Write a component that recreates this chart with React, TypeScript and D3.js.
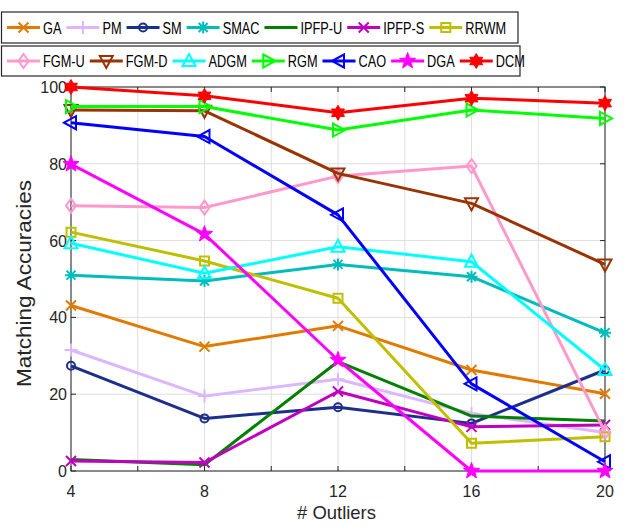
import React, { useEffect, useRef } from "react";
import * as d3 from "d3";

const outliers = [4, 8, 12, 16, 20];
const xTicks = [4, 6, 8, 10, 12, 14, 16, 18, 20];
const xTickLabels = [4, 8, 12, 16, 20];
const yTicks = [0, 20, 40, 60, 80, 100];

const GA = [43.1, 32.4, 37.8, 26.3, 20.1];
const PM = [31.5, 19.5, 23.9, 15.0, 10.0];
const SM = [27.4, 13.7, 16.6, 12.4, 26.3];
const SMAC = [51.0, 49.5, 53.8, 50.6, 36.0];
const IPFP_U = [3.0, 1.6, 28.5, 14.3, 13.0];
const IPFP_S = [2.6, 2.2, 20.7, 11.5, 12.0];
const RRWM = [62.2, 54.7, 45.0, 7.2, 8.9];
const FGM_U = [69.1, 68.6, 76.8, 79.4, 10.2];
const FGM_D = [94.0, 93.8, 77.5, 69.7, 53.8];
const ADGM = [59.3, 51.5, 58.4, 54.5, 26.3];
const RGM = [94.9, 94.9, 88.8, 94.0, 91.8];
const CAO = [90.7, 87.1, 66.7, 22.7, 2.4];
const DGA = [79.9, 61.7, 28.9, 0, 0];
const DCM = [100, 97.7, 93.3, 97.1, 95.8];

const seriesNames = ["GA", "PM", "SM", "SMAC", "IPFP-U", "IPFP-S", "RRWM", "FGM-U", "FGM-D", "ADGM", "RGM", "CAO", "DGA", "DCM"];
const seriesValues = [GA, PM, SM, SMAC, IPFP_U, IPFP_S, RRWM, FGM_U, FGM_D, ADGM, RGM, CAO, DGA, DCM];
const seriesColors = ["#e07b00", "#dcb6ff", "#1c2f8c", "#00bcbc", "#008000", "#bf00bf", "#bfbf00", "#ff99cc", "#993300", "#00ffff", "#00ff00", "#0000ff", "#ff00ff", "#ff0000"];
const seriesMarkers = ["x", "plus", "circle", "asterisk", "none", "x", "square", "diamond", "tridown", "triup", "triright", "trileft", "pentagram", "hexagram"];

const W = 626, H = 527;
const M = { left: 71, right: 605, top: 87, bottom: 471 };

function drawMarker(g: any, type: string, x: number, y: number, color: string) {
  const sw = 2;
  const add = (d: string, fill = "none") =>
    g.append("path").attr("d", d).attr("transform", `translate(${x},${y})`)
      .attr("fill", fill).attr("stroke", color).attr("stroke-width", sw).attr("stroke-linejoin", "miter");
  if (type === "x") {
    const s = 5;
    add(`M${-s},${-s}L${s},${s}M${-s},${s}L${s},${-s}`);
  } else if (type === "plus") {
    const s = 6.5;
    add(`M${-s},0L${s},0M0,${-s}L0,${s}`);
  } else if (type === "asterisk") {
    const s = 6, t = 4.5;
    add(`M${-s},0L${s},0M0,${-s}L0,${s}M${-t},${-t}L${t},${t}M${-t},${t}L${t},${-t}`);
  } else if (type === "circle") {
    g.append("circle").attr("cx", x).attr("cy", y).attr("r", 4).attr("fill", "none").attr("stroke", color).attr("stroke-width", sw);
  } else if (type === "square") {
    const s = 4.5;
    add(`M${-s},${-s}H${s}V${s}H${-s}Z`);
  } else if (type === "diamond") {
    add(`M0,-7L5,0L0,7L-5,0Z`);
  } else if (type === "triup") {
    add(`M0,-7L6.5,5L-6.5,5Z`);
  } else if (type === "tridown") {
    add(`M0,7L6.5,-5L-6.5,-5Z`);
  } else if (type === "triright") {
    add(`M7,0L-5,-6.5L-5,6.5Z`);
  } else if (type === "trileft") {
    add(`M-7,0L5,-6.5L5,6.5Z`);
  } else if (type === "pentagram") {
    const pts: string[] = [];
    for (let i = 0; i < 10; i++) {
      const r = i % 2 === 0 ? 8.5 : 3.5;
      const a = -Math.PI / 2 + (i * Math.PI) / 5;
      pts.push(`${(r * Math.cos(a)).toFixed(2)},${(r * Math.sin(a)).toFixed(2)}`);
    }
    add(`M${pts.join("L")}Z`, color).attr("stroke-width", 1);
  } else if (type === "hexagram") {
    const pts: string[] = [];
    for (let i = 0; i < 12; i++) {
      const r = i % 2 === 0 ? 7.5 : 4.3;
      const a = -Math.PI / 2 + (i * Math.PI) / 6;
      pts.push(`${(r * Math.cos(a)).toFixed(2)},${(r * Math.sin(a)).toFixed(2)}`);
    }
    add(`M${pts.join("L")}Z`, color).attr("stroke-width", 1);
  }
}

export default function App() {
  const ref = useRef<SVGSVGElement | null>(null);
  useEffect(() => {
    const svg = d3.select(ref.current);
    svg.selectAll("*").remove();
    const font = "'Liberation Sans', Arial, Helvetica, sans-serif";
    const axisColor = "#262626";

    const x = d3.scaleLinear().domain([4, 20]).range([M.left, M.right]);
    const y = d3.scaleLinear().domain([0, 100]).range([M.bottom, M.top]);

    svg.append("rect").attr("width", W).attr("height", H).attr("fill", "#fff");

    // grid
    const grid = svg.append("g");
    xTicks.forEach((t) => {
      grid.append("line").attr("x1", x(t)).attr("x2", x(t)).attr("y1", M.top).attr("y2", M.bottom)
        .attr("stroke", "#dedede").attr("stroke-width", 1);
    });
    yTicks.forEach((t) => {
      grid.append("line").attr("x1", M.left).attr("x2", M.right).attr("y1", y(t)).attr("y2", y(t))
        .attr("stroke", "#dedede").attr("stroke-width", 1);
    });

    // box + ticks
    const ax = svg.append("g");
    ax.append("rect").attr("x", M.left).attr("y", M.top).attr("width", M.right - M.left).attr("height", M.bottom - M.top)
      .attr("fill", "none").attr("stroke", axisColor).attr("stroke-width", 1);
    const tl = 5;
    xTicks.forEach((t) => {
      ax.append("line").attr("x1", x(t)).attr("x2", x(t)).attr("y1", M.bottom).attr("y2", M.bottom - tl).attr("stroke", axisColor);
      ax.append("line").attr("x1", x(t)).attr("x2", x(t)).attr("y1", M.top).attr("y2", M.top + tl).attr("stroke", axisColor);
    });
    yTicks.forEach((t) => {
      ax.append("line").attr("x1", M.left).attr("x2", M.left + tl).attr("y1", y(t)).attr("y2", y(t)).attr("stroke", axisColor);
      ax.append("line").attr("x1", M.right).attr("x2", M.right - tl).attr("y1", y(t)).attr("y2", y(t)).attr("stroke", axisColor);
    });
    xTickLabels.forEach((t) => {
      ax.append("text").attr("x", x(t)).attr("y", 497).attr("text-anchor", "middle")
        .attr("font-family", font).attr("font-size", 16).attr("fill", axisColor).text(String(t));
    });
    yTicks.forEach((t) => {
      ax.append("text").attr("x", 67).attr("y", y(t) + 6).attr("text-anchor", "end")
        .attr("font-family", font).attr("font-size", 16).attr("fill", axisColor).text(String(t));
    });

    // axis titles
    svg.append("text").attr("x", (297 + 376) / 2).attr("y", 519).attr("text-anchor", "middle")
      .attr("font-family", font).attr("font-size", 19).attr("fill", axisColor)
      .attr("textLength", 79).attr("lengthAdjust", "spacingAndGlyphs").text("# Outliers");
    svg.append("text").attr("transform", `translate(31,283.5) rotate(-90)`).attr("text-anchor", "middle")
      .attr("font-family", font).attr("font-size", 21).attr("fill", axisColor)
      .attr("textLength", 207).attr("lengthAdjust", "spacingAndGlyphs").text("Matching Accuracies");

    // series
    const line = d3.line<number>().x((_, i) => x(outliers[i])).y((v) => y(v));
    const plot = svg.append("g");
    seriesValues.forEach((vals, si) => {
      const color = seriesColors[si];
      plot.append("path").attr("d", line(vals) as string).attr("fill", "none")
        .attr("stroke", color).attr("stroke-width", 3).attr("stroke-linejoin", "round");
      vals.forEach((v, i) => drawMarker(plot, seriesMarkers[si], x(outliers[i]), y(v), color));
    });

    // legend
    const rows = [seriesNames.slice(0, 7).map((_, i) => i), seriesNames.slice(7).map((_, i) => i + 7)];
    const rowBoxes = [{ y0: 12, y1: 43, x1: 518 }, { y0: 46, y1: 76, x1: 520 }];
    const lg = svg.append("g");
    rows.forEach((idxs, r) => {
      const b = rowBoxes[r];
      lg.append("rect").attr("x", 1.5).attr("y", b.y0).attr("width", b.x1 - 1.5).attr("height", b.y1 - b.y0)
        .attr("fill", "#fff").attr("stroke", axisColor).attr("stroke-width", 1.2);
      const cy = (b.y0 + b.y1) / 2;
      let cx = 7;
      idxs.forEach((si) => {
        const color = seriesColors[si];
        lg.append("line").attr("x1", cx).attr("x2", cx + 33).attr("y1", cy).attr("y2", cy)
          .attr("stroke", color).attr("stroke-width", 3);
        drawMarker(lg, seriesMarkers[si], cx + 16.5, cy, color);
        const tx = cx + 36;
        const txt = lg.append("text").attr("transform", `translate(${tx},${cy + 6}) scale(0.75,1)`)
          .attr("font-family", font).attr("font-size", 17).attr("fill", "#000").text(seriesNames[si]);
        const w = (txt.node() as SVGTextElement).getComputedTextLength() * 0.75;
        cx = tx + w + 5;
      });
    });
  }, []);
  return (
    <svg ref={ref} width={W} height={H} style={{ position: "absolute", left: 0, top: 0, display: "block" }} />
  );
}
